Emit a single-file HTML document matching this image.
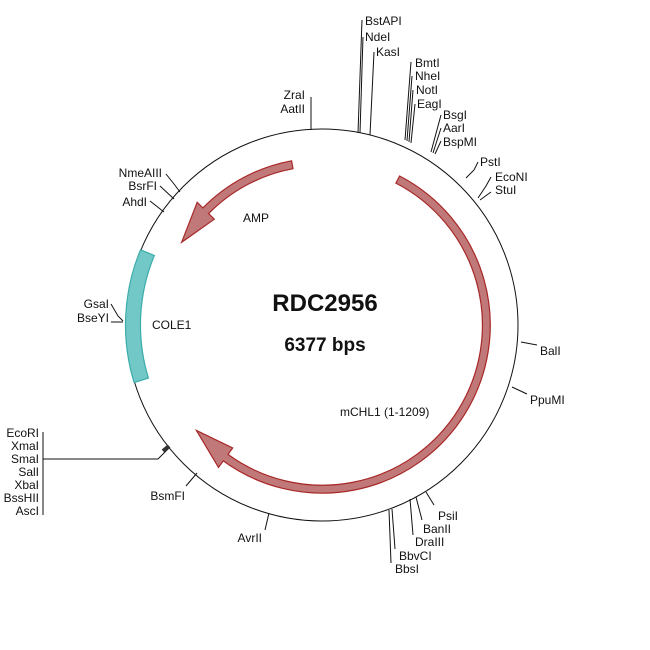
<!DOCTYPE html>
<html><head><meta charset="utf-8"><style>
html,body{margin:0;padding:0;background:#fff;}
svg{display:block;}
text{font-family:"Liberation Sans",Arial,sans-serif;font-size:12px;fill:#111;}
</style></head><body>
<svg id="s" width="650" height="650" viewBox="0 0 650 650" xmlns="http://www.w3.org/2000/svg">
<circle cx="322" cy="325" r="196" fill="none" stroke="#111" stroke-width="1"/>
<g id="feat"></g>
<g stroke="#111" stroke-width="1" fill="none">
<polyline points="311,130 311,97"/>
<polyline points="358,133 362,20"/>
<polyline points="360,133 363,37"/>
<polyline points="370,135 374,52"/>
<polyline points="405,140 411,62"/>
<polyline points="407,141 412,76"/>
<polyline points="409,142 413,90"/>
<polyline points="411,143 415,104"/>
<polyline points="431,152 441,115"/>
<polyline points="433,153 441,128"/>
<polyline points="435,154 441,141"/>
<polyline points="466,178 474,170 478,162"/>
<polyline points="478,198 486,186 491,177"/>
<polyline points="480,200 491,192"/>
<polyline points="180,192 174,184 166,174"/>
<polyline points="174,199 160,186"/>
<polyline points="164,212 150,201"/>
<polyline points="123,321 118,316 111,304"/>
<polyline points="123,322 111,322"/>
<polyline points="43,432 43,515"/>
<polyline points="43,459 158,459 170,447"/>
<polyline points="197,473 186,486"/>
<polyline points="269,513 265,530"/>
<polyline points="521,342 537,345"/>
<polyline points="512,387 527,394"/>
<polyline points="426,492 434,505"/>
<polyline points="416,497 422,520"/>
<polyline points="410,499 413,535"/>
<polyline points="392,509 395,549"/>
<polyline points="389,510 391,563"/>
</g>
<line x1="163" y1="451" x2="169" y2="446" stroke="#333" stroke-width="4"/>
<text x="365" y="25">BstAPI</text>
<text x="365" y="41">NdeI</text>
<text x="376" y="56">KasI</text>
<text x="305" y="99" text-anchor="end">ZraI</text>
<text x="305" y="113" text-anchor="end">AatII</text>
<text x="415" y="67">BmtI</text>
<text x="415" y="80">NheI</text>
<text x="416" y="94">NotI</text>
<text x="417" y="108">EagI</text>
<text x="443" y="119">BsgI</text>
<text x="443" y="132">AarI</text>
<text x="443" y="146">BspMI</text>
<text x="480" y="166">PstI</text>
<text x="495" y="181">EcoNI</text>
<text x="495" y="194">StuI</text>
<text x="162" y="177" text-anchor="end">NmeAIII</text>
<text x="157" y="190" text-anchor="end">BsrFI</text>
<text x="147" y="206" text-anchor="end">AhdI</text>
<text x="109" y="308" text-anchor="end">GsaI</text>
<text x="109" y="322" text-anchor="end">BseYI</text>
<text x="39" y="437" text-anchor="end">EcoRI</text>
<text x="39" y="450" text-anchor="end">XmaI</text>
<text x="39" y="463" text-anchor="end">SmaI</text>
<text x="39" y="476" text-anchor="end">SalI</text>
<text x="39" y="489" text-anchor="end">XbaI</text>
<text x="39" y="502" text-anchor="end">BssHII</text>
<text x="39" y="515" text-anchor="end">AscI</text>
<text x="185" y="500" text-anchor="end">BsmFI</text>
<text x="262" y="542" text-anchor="end">AvrII</text>
<text x="540" y="355">BalI</text>
<text x="530" y="404">PpuMI</text>
<text x="438" y="520">PsiI</text>
<text x="423" y="533">BanII</text>
<text x="415" y="546">DraIII</text>
<text x="399" y="560">BbvCI</text>
<text x="395" y="573">BbsI</text>
<text x="243" y="222">AMP</text>
<text x="152" y="329">COLE1</text>
<text x="340" y="416">mCHL1 (1-1209)</text>
<text x="325" y="311" text-anchor="middle" style="font-size:24px;font-weight:bold">RDC2956</text>
<text x="325" y="351" text-anchor="middle" style="font-size:19px;font-weight:bold">6377 bps</text>
</svg>
<script>
var cx=322,cy=325;
function P(r,a){a=a*Math.PI/180;return [cx+r*Math.sin(a),cy-r*Math.cos(a)];}
function f(p){return p[0].toFixed(1)+","+p[1].toFixed(1);}
function band(r,w,a1,a2,head,fill,stroke){
  var ro=r+w/2,ri=r-w/2,cw=a2>a1?1:0,d;
  var hl=head?14:0;var dir=a2>a1?1:-1;
  var ab=a2-dir*hl;
  var big=Math.abs(ab-a1)>180?1:0;
  d="M"+f(P(ro,a1))+" A"+ro+","+ro+" 0 "+big+" "+cw+" "+f(P(ro,ab));
  if(head){d+=" L"+f(P(r+12,ab))+" L"+f(P(r,a2))+" L"+f(P(r-12,ab))+" L"+f(P(ri,ab));}
  else d+=" L"+f(P(ri,ab));
  d+=" A"+ri+","+ri+" 0 "+big+" "+(1-cw)+" "+f(P(ri,a1))+" Z";
  var e=document.createElementNS("http://www.w3.org/2000/svg","path");
  e.setAttribute("d",d);e.setAttribute("fill",fill);e.setAttribute("stroke",stroke);e.setAttribute("stroke-width","1.2");
  document.getElementById("feat").appendChild(e);
}
band(164,8,27.5,230,true,"#c07878","#a82828");
band(163,8,349.5,300.5,true,"#c07878","#a82828");
band(189,15,292.5,253,false,"#72c8c6","#3aacaa");
</script>
</body></html>
